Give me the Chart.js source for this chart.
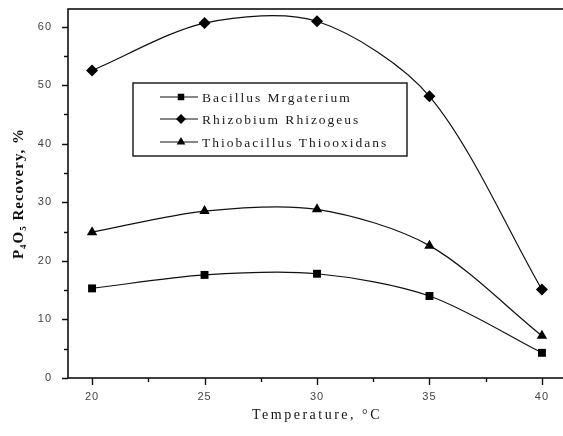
<!DOCTYPE html>
<html>
<head>
<meta charset="utf-8">
<script src="https://cdn.jsdelivr.net/npm/chart.js@4"></script>
<style>
  html, body { margin: 0; padding: 0; background: #fff; overflow: hidden; }
  #wrap { width: 580px; height: 436px; }
</style>
</head>
<body>
<div id="wrap"><canvas id="chart" width="580" height="436"></canvas></div>
<script>
// Dados
const temperatures = [20, 25, 30, 35, 40];
const bacillus = [15.3, 17.6, 17.8, 14.0, 4.3];
const rhizobium = [52.5, 60.6, 60.9, 48.1, 15.1];
const thiobacillus = [24.9, 28.5, 28.8, 22.6, 7.2];

const seriesNames = ['Bacillus Mrgaterium', 'Rhizobium Rhizogeus', 'Thiobacillus Thiooxidans'];
const xTickValues = [20, 25, 30, 35, 40];
const yTickValues = [0, 10, 20, 30, 40, 50, 60];
const xTitle = 'Temperature, °C';

function toPoints(values) {
  return temperatures.map((t, i) => ({ x: t, y: values[i] }));
}

function makeDataset(label, values, style, radius) {
  return {
    label: label,
    data: toPoints(values),
    borderColor: '#111',
    backgroundColor: '#000',
    borderWidth: 1.2,
    pointStyle: style,
    pointRadius: radius,
    pointHoverRadius: radius,
    pointBorderWidth: 0,
    tension: 0.3
  };
}

// Moldura, ticks maiores/menores, título do eixo x e legenda desenhados à mão
const framePlugin = {
  id: 'frame',
  beforeDraw(chart) {
    chart.ctx.letterSpacing = '1px';
  },
  afterDraw(chart) {
    const ctx = chart.ctx;
    const a = chart.chartArea;
    const xs = chart.scales.x;
    const ys = chart.scales.y;
    ctx.save();
    ctx.strokeStyle = '#111';
    ctx.lineWidth = 1.6;
    ctx.strokeRect(a.left, a.top, a.right - a.left, a.bottom - a.top);

    ctx.lineWidth = 1.4;
    ctx.beginPath();
    for (let v = 0; v <= 60; v += 5) {
      const y = Math.round(ys.getPixelForValue(v)) + 0.5;
      const len = v % 10 === 0 ? 6 : 4;
      ctx.moveTo(a.left - len, y);
      ctx.lineTo(a.left, y);
    }
    for (let v = 20; v <= 40; v += 2.5) {
      const x = Math.round(xs.getPixelForValue(v)) + 0.5;
      const len = v % 5 === 0 ? 7 : 4;
      ctx.moveTo(x, a.bottom);
      ctx.lineTo(x, a.bottom + len);
    }
    ctx.stroke();

    // título do eixo x
    ctx.font = '14px "Liberation Serif", "Times New Roman", serif';
    ctx.letterSpacing = '2.5px';
    ctx.textAlign = 'center';
    ctx.textBaseline = 'middle';
    ctx.fillStyle = '#111';
    ctx.fillText(xTitle, 317, 415);

    // legenda
    const box = { x: 133, y: 83, w: 274, h: 73 };
    ctx.lineWidth = 1.5;
    ctx.strokeStyle = '#222';
    ctx.strokeRect(box.x, box.y, box.w, box.h);
    const rows = [97, 119, 142];
    ctx.font = '13.5px "Liberation Serif", "Times New Roman", serif';
    ctx.letterSpacing = '2px';
    ctx.textAlign = 'left';
    chart.data.datasets.forEach((ds, i) => {
      const y = rows[i];
      ctx.strokeStyle = '#111';
      ctx.lineWidth = 1.2;
      ctx.beginPath();
      ctx.moveTo(160, y);
      ctx.lineTo(198, y);
      ctx.stroke();
      ctx.fillStyle = '#000';
      Chart.helpers.drawPoint(ctx, { pointStyle: ds.pointStyle, radius: ds.pointRadius - 1, borderWidth: 0 }, 181, y);
      ctx.fillStyle = '#1a1a1a';
      ctx.fillText(ds.label, 202, y + 1);
    });
    ctx.restore();
  }
};

new Chart(document.getElementById('chart'), {
  type: 'line',
  data: {
    datasets: [
      makeDataset(seriesNames[0], bacillus, 'rect', 5.6),
      makeDataset(seriesNames[1], rhizobium, 'rectRot', 6),
      makeDataset(seriesNames[2], thiobacillus, 'triangle', 6)
    ]
  },
  options: {
    responsive: false,
    animation: false,
    layout: { padding: { top: 9, right: 14, left: 0, bottom: 0 } },
    plugins: {
      legend: { display: false },
      tooltip: { enabled: false }
    },
    scales: {
      x: {
        type: 'linear',
        min: 18.93,
        max: 41.07,
        afterBuildTicks: s => { s.ticks = xTickValues.map(v => ({ value: v })); },
        afterFit: s => { s.height = 58; s.paddingLeft = 0; s.paddingRight = 0; },
        grid: { display: false },
        border: { display: false },
        ticks: {
          color: '#444',
          font: { family: '"Liberation Sans", Arial, sans-serif', size: 11 },
          padding: 4,
          maxRotation: 0
        },
        title: { display: false }
      },
      y: {
        min: 0,
        max: 63,
        afterBuildTicks: s => { s.ticks = yTickValues.map(v => ({ value: v })); },
        afterFit: s => { s.width = 68; s.paddingTop = 0; s.paddingBottom = 0; },
        grid: { display: false },
        border: { display: false },
        ticks: {
          color: '#444',
          font: { family: '"Liberation Sans", Arial, sans-serif', size: 11 },
          padding: 8
        },
        title: {
          display: true,
          text: 'P₄O₅ Recovery, %',
          color: '#111',
          font: { family: '"Liberation Serif", "Times New Roman", serif', size: 15, weight: 'bold' },
          padding: { top: 10, bottom: 0 }
        }
      }
    }
  },
  plugins: [framePlugin]
});
</script>
</body>
</html>
